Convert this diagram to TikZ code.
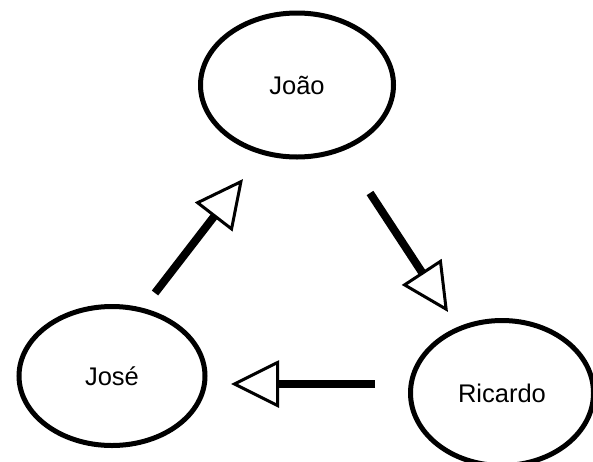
\documentclass[tikz,border=0pt]{standalone}
\usepackage{fontspec}
\setmainfont{Liberation Sans}
\usetikzlibrary{arrows.meta,shapes.geometric}
\begin{document}
\begin{tikzpicture}[x=1pt,y=-1pt,
  person/.style={draw, line width=5pt, ellipse, inner sep=0pt, font=\fontsize{25.5}{30}\selectfont},
  link/.style={line width=8pt, -{Triangle[length=48pt,width=47pt,fill=white,line width=3pt]}}]
  \useasboundingbox (0,0) rectangle (593,461);
  \clip (0,0) rectangle (593,461);
  % the three people
  \node[person, minimum width=193pt, minimum height=144pt] (joao) at (297,85) {João};
  \node[person, minimum width=186pt, minimum height=139pt] (jose) at (112,376) {José};
  \node[person, minimum width=183pt, minimum height=145pt] (ricardo) at (502,393) {Ricardo};
  % free ends of the arrows, set apart from the ellipses
  \coordinate (joseOut) at (155,293);
  \coordinate (joaoIn) at (243,179);
  \coordinate (joaoOut) at (370,193);
  \coordinate (ricardoIn) at (448,312);
  \coordinate (ricardoOut) at (375,384);
  \coordinate (joseIn) at (231,384);
  \draw[link] (joseOut) -- (joaoIn);
  \draw[link] (joaoOut) -- (ricardoIn);
  \draw[link] (ricardoOut) -- (joseIn);
\end{tikzpicture}
\end{document}
